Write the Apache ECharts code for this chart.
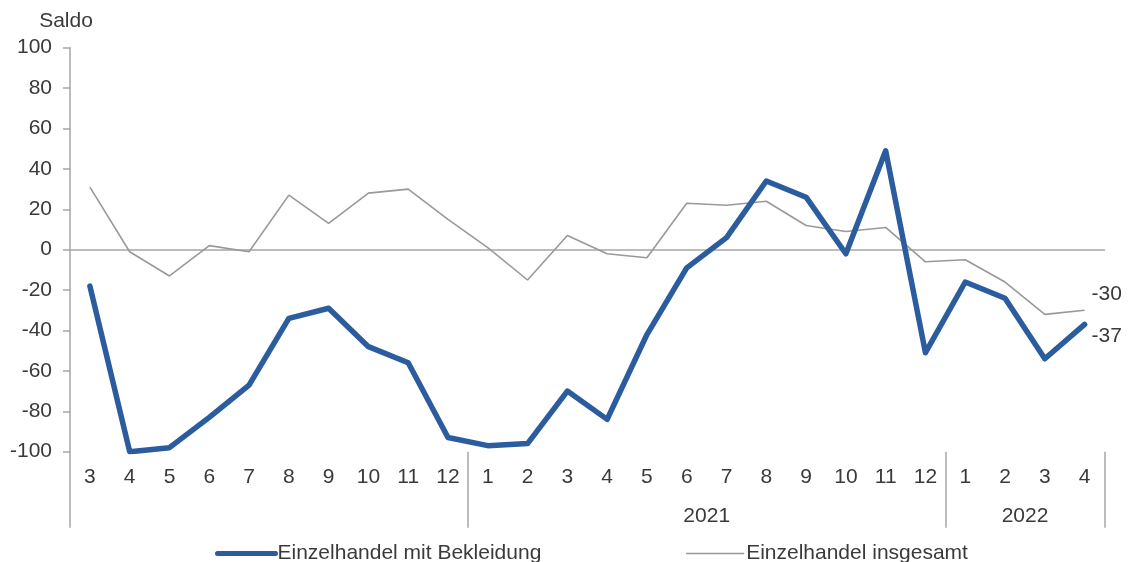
<!DOCTYPE html>
<html>
<head>
<meta charset="utf-8">
<script src="https://cdn.jsdelivr.net/npm/echarts@6/dist/echarts.min.js"></script>
<style>
html,body{margin:0;padding:0;background:#fff;}
#chart{width:1129px;height:562px;}
</style>
</head>
<body>
<div id="chart"></div>
<script>
// Month labels (2020-03 .. 2022-04)
var monthLabels = ['3','4','5','6','7','8','9','10','11','12',
  '1','2','3','4','5','6','7','8','9','10','11','12',
  '1','2','3','4'];
// Year groups
var yearLabels = ['', '2021', '2022'];
var yearCounts = [10, 12, 4];
// Series values (Saldo)
var bekleidung = [-18, -100, -98, -83, -67, -34, -29, -48, -56, -93,
  -97, -96, -70, -84, -42, -9, 6, 34, 26, -2, 49, -51,
  -16, -24, -54, -37];
var insgesamt = [31, -1, -13, 2, -1, 27, 13, 28, 30, 15,
  1, -15, 7, -2, -4, 23, 22, 24, 12, 9, 11, -6,
  -5, -16, -32, -30];
var yTicks = {min: -100, max: 100, interval: 20};

// group boundaries and label positions derived from the year groups
var boundaryIdx = {};
var yearLabelAt = {};
var start = 0;
yearCounts.forEach(function (c, i) {
  boundaryIdx[start] = true;
  var mid = start + Math.floor((c - 1) / 2);
  yearLabelAt[mid] = yearLabels[i];
  start += c;
});

var FONT = 'Liberation Sans, Arial, sans-serif';
var TXT = '#3a3a3a';
var AX = '#a6a6a6';
var BLUE = '#2A5C9E';
var GRAY = '#999999';

var chart = echarts.init(document.getElementById('chart'));
chart.setOption({
  animation: false,
  backgroundColor: '#fff',
  textStyle: {fontFamily: FONT},
  grid: {left: 70, right: 24.5, top: 47.7, bottom: 110.3, containLabel: false},
  legend: {
    left: 210, top: 538,
    itemWidth: 58, itemHeight: 1, itemGap: 144,
    itemStyle: {opacity: 0},
    textStyle: {fontSize: 21, color: TXT, fontFamily: FONT, padding: [0,0,0,-3]},
    data: [
      {name: 'Einzelhandel mit Bekleidung', lineStyle: {color: BLUE, width: 5, cap: 'round'}},
      {name: 'Einzelhandel insgesamt', lineStyle: {color: GRAY, width: 1.6}}
    ]
  },
  xAxis: [
    {
      type: 'category', data: monthLabels, boundaryGap: true,
      axisLine: {show: true, onZero: true, lineStyle: {color: AX, width: 1.5}},
      axisTick: {show: false}, axisLabel: {show: false}, splitLine: {show: false}
    },
    {
      type: 'category', data: monthLabels, boundaryGap: true, position: 'bottom',
      axisLine: {show: false, onZero: false},
      axisTick: {show: true, length: 76, lineStyle: {color: AX, width: 1.5},
        interval: function (idx) { return !!boundaryIdx[idx]; }},
      axisLabel: {show: true, interval: 0, margin: 15, fontSize: 21, color: TXT, fontFamily: FONT},
      splitLine: {show: false}
    },
    {
      type: 'category', data: monthLabels, boundaryGap: true, position: 'bottom',
      axisLine: {show: false, onZero: false}, axisTick: {show: false},
      axisLabel: {show: true, interval: 0, margin: 54, fontSize: 21, color: TXT, fontFamily: FONT,
        padding: [0, 0, 0, 40],
        formatter: function (v, idx) { return yearLabelAt[idx] || ''; }},
      splitLine: {show: false}
    }
  ],
  yAxis: {
    type: 'value', min: yTicks.min, max: yTicks.max, interval: yTicks.interval,
    name: 'Saldo', nameLocation: 'end', nameGap: 16,
    nameTextStyle: {fontSize: 21, color: TXT, fontFamily: FONT, padding: [0, 8, 0, 0]},
    axisLine: {show: true, lineStyle: {color: AX, width: 1.5}},
    axisTick: {show: true, length: 7, lineStyle: {color: AX, width: 1.5}},
    axisLabel: {margin: 18, fontSize: 21, color: TXT, fontFamily: FONT},
    splitLine: {show: false}
  },
  series: [
    {
      name: 'Einzelhandel mit Bekleidung', type: 'line', xAxisIndex: 0,
      data: bekleidung, symbol: 'none', z: 5,
      color: BLUE,
      lineStyle: {color: BLUE, width: 5.5, cap: 'round', join: 'round'},
      endLabel: {show: true, formatter: '{c}', fontSize: 21, color: TXT, fontFamily: FONT,
        distance: 7, offset: [0, 12]}
    },
    {
      name: 'Einzelhandel insgesamt', type: 'line', xAxisIndex: 0,
      data: insgesamt, symbol: 'none', z: 4,
      color: GRAY,
      lineStyle: {color: GRAY, width: 1.6},
      endLabel: {show: true, formatter: '{c}', fontSize: 21, color: TXT, fontFamily: FONT,
        distance: 7, offset: [0, -16]}
    }
  ]
});
</script>
</body>
</html>
